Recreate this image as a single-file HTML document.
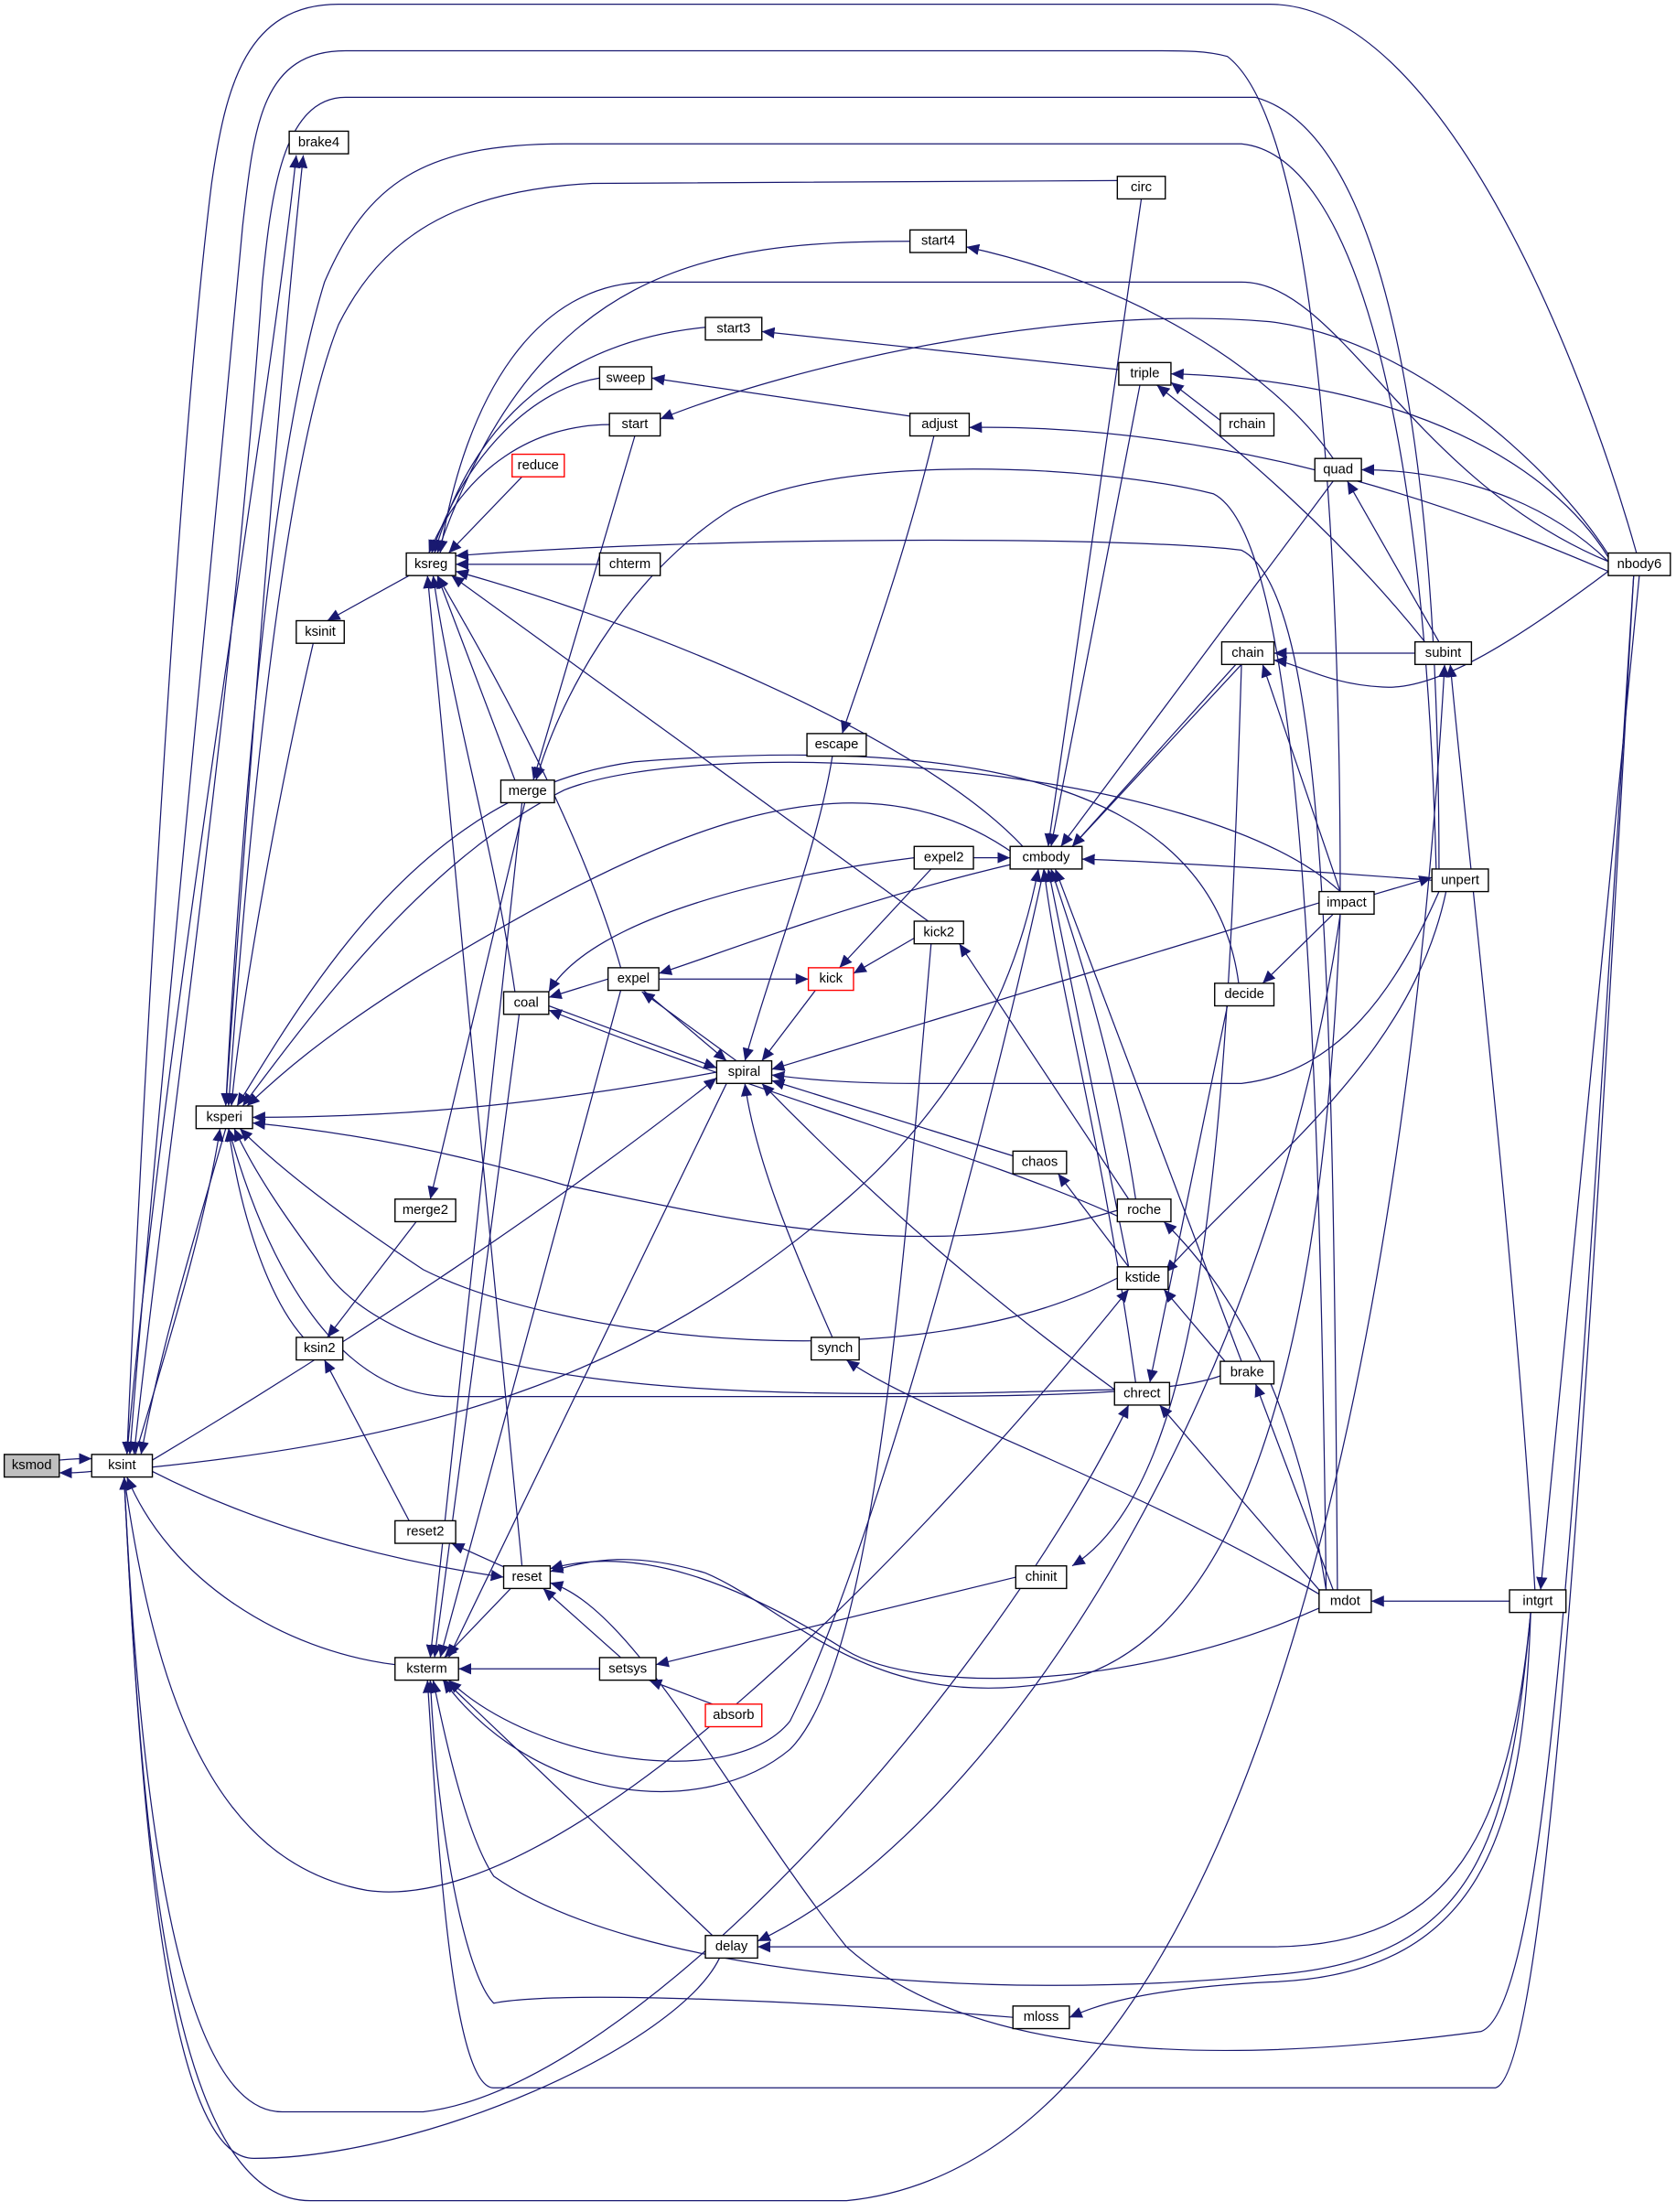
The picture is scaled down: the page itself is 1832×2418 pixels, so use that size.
<!DOCTYPE html>
<html><head><meta charset="utf-8"><style>
html,body{margin:0;padding:0;background:#fff;}
svg{display:block;}
text{font-family:"Liberation Sans",sans-serif;font-size:9.6px;text-anchor:middle;dominant-baseline:central;fill:#000;}
.e{fill:none;stroke:#191970;stroke-width:0.8;marker-end:url(#a);}
.n{fill:#fff;stroke:#000;stroke-width:0.9;}
</style></head><body>
<svg width="1832" height="2418" viewBox="0 0 1188 1568" xmlns="http://www.w3.org/2000/svg">
<defs><marker id="a" markerUnits="userSpaceOnUse" markerWidth="10" markerHeight="8" refX="9" refY="4" orient="auto"><path d="M0,0 L9,4 L0,8 z" fill="#191970"/></marker></defs>
<g>
<path class="e" d="M42,1035 C52,1034 56,1034 65,1034"/>
<path class="e" d="M65,1043 C56,1044 52,1044 42,1044"/>
<path class="e" d="M1160,392 C1120,250 1020,3 900,3 L240,3 C175,3 160,60 150,130 C125,330 100,800 90,1031"/>
<path class="e" d="M950,632 C950,400 935,90 870,40 C855,36 840,36 820,36 L245,36 C185,36 180,90 172,160 C150,400 110,800 92,1031"/>
<path class="e" d="M1020,616 C1020,400 1000,100 890,69 L245,69 C200,69 192,140 186,200 C165,500 120,800 95,1031"/>
<path class="e" d="M1018,616 C1010,300 960,110 880,102 L400,102 C300,102 260,130 230,200 C190,330 170,600 160,784"/>
<path class="e" d="M792,128 L420,130 C320,135 270,170 240,230 C200,330 175,600 162,784"/>
<path class="e" d="M90,1031 C120,700 190,300 210,110"/>
<path class="e" d="M160,784 C180,500 200,250 215,110"/>
<path class="e" d="M290,408 L232,440"/>
<path class="e" d="M222,456 C200,550 172,700 164,784"/>
<path class="e" d="M96,1031 C120,950 145,870 156,800"/>
<path class="e" d="M160,800 C140,870 115,950 100,1031"/>
<path class="e" d="M645,171 C500,171 380,190 310,392"/>
<path class="e" d="M500,232 C420,240 340,280 308,392"/>
<path class="e" d="M425,268 C380,275 330,320 306,392"/>
<path class="e" d="M432,301 C380,301 330,330 304,392"/>
<path class="e" d="M370,338 L318,392"/>
<path class="e" d="M425,400 L323,400"/>
<path class="e" d="M1140,398 C1000,340 950,200 880,200 L460,200 C380,200 330,280 312,392"/>
<path class="e" d="M948,1127 C945,700 940,420 880,390 C800,380 500,380 323,394"/>
<path class="e" d="M725,600 C650,520 450,440 323,405"/>
<path class="e" d="M658,653 L320,408"/>
<path class="e" d="M365,553 L310,408"/>
<path class="e" d="M365,703 C350,600 320,500 307,408"/>
<path class="e" d="M440,686 C410,580 340,460 310,408"/>
<path class="e" d="M370,1110 C350,900 320,600 303,408"/>
<path class="e" d="M450,309 L378,553"/>
<path class="e" d="M940,1127 C935,700 920,380 860,350 C780,330 600,320 520,360 C440,410 395,500 380,553"/>
<path class="e" d="M372,569 L305,850"/>
<path class="e" d="M295,866 L232,948"/>
<path class="e" d="M215,948 C190,920 170,860 162,800"/>
<path class="e" d="M290,1078 L230,964"/>
<path class="e" d="M360,1112 L320,1094"/>
<path class="e" d="M108,1043 C200,1090 300,1110 357,1118"/>
<path class="e" d="M280,1180 C200,1170 120,1120 90,1047"/>
<path class="e" d="M362,1126 L315,1175"/>
<path class="e" d="M425,1183 L325,1183"/>
<path class="e" d="M440,1175 L385,1126"/>
<path class="e" d="M505,1208 L460,1191"/>
<path class="e" d="M720,1118 L465,1180"/>
<path class="e" d="M108,1035 C250,950 400,850 508,764"/>
<path class="e" d="M108,1040 C300,1020 450,980 600,850 C680,780 720,700 736,616"/>
<path class="e" d="M508,760 C400,780 300,792 179,792"/>
<path class="e" d="M720,606 C600,520 450,600 300,690 C220,740 190,770 175,784"/>
<path class="e" d="M950,632 C850,540 500,520 400,560 C300,610 220,720 172,784"/>
<path class="e" d="M878,697 C860,560 700,520 450,540 C300,560 220,700 168,784"/>
<path class="e" d="M792,858 C650,900 500,860 400,840 C300,810 220,800 179,796"/>
<path class="e" d="M792,906 C650,980 400,950 300,900 C240,860 200,830 170,800"/>
<path class="e" d="M790,985 C600,990 300,1000 230,900 C200,860 180,830 166,800"/>
<path class="e" d="M870,973 C840,990 700,990 600,990 L320,990 C240,990 190,900 162,800"/>
<path class="e" d="M935,640 L547,758"/>
<path class="e" d="M1020,632 C990,700 950,760 880,768 L650,768 C600,768 570,765 547,762"/>
<path class="e" d="M720,820 L547,766"/>
<path class="e" d="M790,985 C700,920 620,850 540,768"/>
<path class="e" d="M590,948 C560,880 535,820 528,768"/>
<path class="e" d="M456,702 L515,752"/>
<path class="e" d="M522,752 L455,703"/>
<path class="e" d="M389,713 L508,757"/>
<path class="e" d="M792,862 C700,820 550,780 389,716"/>
<path class="e" d="M590,536 C580,600 545,690 528,752"/>
<path class="e" d="M662,309 C640,400 610,480 597,520"/>
<path class="e" d="M645,295 L462,268"/>
<path class="e" d="M793,262 L540,235"/>
<path class="e" d="M945,325 C900,260 800,200 685,175"/>
<path class="e" d="M1140,393 C1100,330 1000,240 900,228 C750,215 560,260 468,297"/>
<path class="e" d="M1140,395 C1100,330 1000,270 830,265"/>
<path class="e" d="M865,298 L830,271"/>
<path class="e" d="M1010,455 C950,380 880,320 820,273"/>
<path class="e" d="M1140,398 C1080,340 1000,333 965,333"/>
<path class="e" d="M1020,455 L955,341"/>
<path class="e" d="M1140,405 C1080,380 900,300 687,303"/>
<path class="e" d="M808,273 L745,600"/>
<path class="e" d="M809,141 L743,600"/>
<path class="e" d="M945,341 L752,600"/>
<path class="e" d="M880,471 L760,600"/>
<path class="e" d="M1003,463 L903,463"/>
<path class="e" d="M1140,405 C1080,450 1020,490 980,487 C940,485 920,470 903,468"/>
<path class="e" d="M1088,1127 C1075,900 1040,600 1028,471"/>
<path class="e" d="M1162,408 L1092,1127"/>
<path class="e" d="M1158,408 C1130,900 1100,1470 1060,1480 L350,1480 C320,1480 310,1300 303,1191"/>
<path class="e" d="M88,1047 C100,1300 120,1560 220,1560 L600,1560 C900,1530 1000,900 1024,471"/>
<path class="e" d="M690,608 L716,608"/>
<path class="e" d="M648,608 C550,620 420,650 389,703"/>
<path class="e" d="M720,612 C600,640 500,680 467,690"/>
<path class="e" d="M467,694 L573,694"/>
<path class="e" d="M648,665 L605,690"/>
<path class="e" d="M660,616 L595,686"/>
<path class="e" d="M578,702 L540,752"/>
<path class="e" d="M431,694 L389,707"/>
<path class="e" d="M800,850 L680,669"/>
<path class="e" d="M805,850 C790,750 760,660 745,616"/>
<path class="e" d="M800,898 L743,616"/>
<path class="e" d="M805,980 C780,800 750,700 740,616"/>
<path class="e" d="M880,965 L748,616"/>
<path class="e" d="M1015,624 C900,615 800,610 767,609"/>
<path class="e" d="M974,634 L1015,622"/>
<path class="e" d="M950,632 L895,471"/>
<path class="e" d="M876,471 L760,600"/>
<path class="e" d="M945,648 L895,697"/>
<path class="e" d="M880,471 C870,800 855,1050 760,1110"/>
<path class="e" d="M870,713 L815,980"/>
<path class="e" d="M800,898 L750,832"/>
<path class="e" d="M940,1127 C920,1000 880,920 825,866"/>
<path class="e" d="M870,967 L825,914"/>
<path class="e" d="M1025,632 C1000,750 900,820 826,902"/>
<path class="e" d="M945,1127 L890,981"/>
<path class="e" d="M935,1127 L822,996"/>
<path class="e" d="M935,1130 C800,1050 650,1000 600,964"/>
<path class="e" d="M1070,1135 L972,1135"/>
<path class="e" d="M935,1140 C800,1200 650,1200 600,1170 C520,1120 450,1095 390,1112"/>
<path class="e" d="M950,648 C940,900 900,1150 760,1190 C620,1220 560,1140 500,1115 C450,1100 420,1105 390,1114"/>
<path class="e" d="M1158,408 C1120,1000 1100,1420 1050,1440 C900,1460 700,1470 600,1380 C520,1280 450,1140 390,1122"/>
<path class="e" d="M740,616 C700,800 620,1100 560,1220 C520,1270 380,1250 318,1191"/>
<path class="e" d="M660,669 C640,900 620,1180 560,1240 C500,1290 380,1280 314,1191"/>
<path class="e" d="M718,1430 C600,1420 400,1410 350,1420 C330,1400 310,1300 305,1191"/>
<path class="e" d="M1085,1143 C1080,1300 1050,1400 900,1405 C800,1410 770,1425 758,1430"/>
<path class="e" d="M1085,1143 C1070,1300 1030,1380 900,1380 L537,1380"/>
<path class="e" d="M510,1388 C480,1450 300,1530 180,1530 C120,1530 100,1300 88,1047"/>
<path class="e" d="M505,1372 L315,1191"/>
<path class="e" d="M950,648 C900,1000 700,1300 537,1376"/>
<path class="e" d="M1085,1143 C1070,1300 1050,1390 900,1400 C700,1420 450,1400 350,1330 C330,1300 315,1230 307,1191"/>
<path class="e" d="M88,1047 C100,1300 130,1497 200,1497 L300,1497 C450,1480 700,1200 800,996"/>
<path class="e" d="M88,1047 C110,1200 150,1320 260,1340 C400,1360 650,1100 800,914"/>
<path class="e" d="M370,569 L305,1175"/>
<path class="e" d="M368,719 L308,1175"/>
<path class="e" d="M440,702 L312,1175"/>
<path class="e" d="M515,768 L318,1175"/>
</g>
<g>
<rect x="3" y="1031" width="39" height="16" fill="#bfbfbf" stroke="#000" stroke-width="0.9"/><text x="22.5" y="1039">ksmod</text>
<rect class="n" x="65" y="1031" width="43" height="16"/><text x="86.5" y="1039">ksint</text>
<rect class="n" x="205" y="93" width="42" height="16"/><text x="226" y="101">brake4</text>
<rect class="n" x="792" y="125" width="34" height="16"/><text x="809" y="133">circ</text>
<rect class="n" x="645" y="163" width="40" height="16"/><text x="665" y="171">start4</text>
<rect class="n" x="500" y="225" width="40" height="16"/><text x="520" y="233">start3</text>
<rect class="n" x="793" y="257" width="37" height="16"/><text x="811.5" y="265">triple</text>
<rect class="n" x="425" y="260" width="37" height="16"/><text x="443.5" y="268">sweep</text>
<rect class="n" x="432" y="293" width="36" height="16"/><text x="450" y="301">start</text>
<rect class="n" x="645" y="293" width="42" height="16"/><text x="666" y="301">adjust</text>
<rect class="n" x="865" y="293" width="38" height="16"/><text x="884" y="301">rchain</text>
<rect x="363" y="322" width="37" height="16" fill="#fff" stroke="#f00" stroke-width="0.9"/><text x="381.5" y="330">reduce</text>
<rect class="n" x="932" y="325" width="33" height="16"/><text x="948.5" y="333">quad</text>
<rect class="n" x="288" y="392" width="35" height="16"/><text x="305.5" y="400">ksreg</text>
<rect class="n" x="425" y="392" width="43" height="16"/><text x="446.5" y="400">chterm</text>
<rect class="n" x="1140" y="392" width="44" height="16"/><text x="1162" y="400">nbody6</text>
<rect class="n" x="210" y="440" width="34" height="16"/><text x="227" y="448">ksinit</text>
<rect class="n" x="866" y="455" width="37" height="16"/><text x="884.5" y="463">chain</text>
<rect class="n" x="1003" y="455" width="40" height="16"/><text x="1023" y="463">subint</text>
<rect class="n" x="572" y="520" width="42" height="16"/><text x="593" y="528">escape</text>
<rect class="n" x="355" y="553" width="38" height="16"/><text x="374" y="561">merge</text>
<rect class="n" x="648" y="600" width="42" height="16"/><text x="669" y="608">expel2</text>
<rect class="n" x="716" y="600" width="51" height="16"/><text x="741.5" y="608">cmbody</text>
<rect class="n" x="1015" y="616" width="40" height="16"/><text x="1035" y="624">unpert</text>
<rect class="n" x="935" y="632" width="39" height="16"/><text x="954.5" y="640">impact</text>
<rect class="n" x="648" y="653" width="35" height="16"/><text x="665.5" y="661">kick2</text>
<rect class="n" x="431" y="686" width="36" height="16"/><text x="449" y="694">expel</text>
<rect x="573" y="686" width="32" height="16" fill="#fff" stroke="#f00" stroke-width="0.9"/><text x="589" y="694">kick</text>
<rect class="n" x="861" y="697" width="42" height="16"/><text x="882" y="705">decide</text>
<rect class="n" x="357" y="703" width="32" height="16"/><text x="373" y="711">coal</text>
<rect class="n" x="508" y="752" width="39" height="16"/><text x="527.5" y="760">spiral</text>
<rect class="n" x="139" y="784" width="40" height="16"/><text x="159" y="792">ksperi</text>
<rect class="n" x="718" y="816" width="38" height="16"/><text x="737" y="824">chaos</text>
<rect class="n" x="792" y="850" width="38" height="16"/><text x="811" y="858">roche</text>
<rect class="n" x="280" y="850" width="43" height="16"/><text x="301.5" y="858">merge2</text>
<rect class="n" x="792" y="898" width="36" height="16"/><text x="810" y="906">kstide</text>
<rect class="n" x="210" y="948" width="33" height="16"/><text x="226.5" y="956">ksin2</text>
<rect class="n" x="575" y="948" width="34" height="16"/><text x="592" y="956">synch</text>
<rect class="n" x="865" y="965" width="38" height="16"/><text x="884" y="973">brake</text>
<rect class="n" x="790" y="980" width="39" height="16"/><text x="809.5" y="988">chrect</text>
<rect class="n" x="280" y="1078" width="43" height="16"/><text x="301.5" y="1086">reset2</text>
<rect class="n" x="357" y="1110" width="33" height="16"/><text x="373.5" y="1118">reset</text>
<rect class="n" x="720" y="1110" width="36" height="16"/><text x="738" y="1118">chinit</text>
<rect class="n" x="935" y="1127" width="37" height="16"/><text x="953.5" y="1135">mdot</text>
<rect class="n" x="1070" y="1127" width="40" height="16"/><text x="1090" y="1135">intgrt</text>
<rect class="n" x="280" y="1175" width="45" height="16"/><text x="302.5" y="1183">ksterm</text>
<rect class="n" x="425" y="1175" width="40" height="16"/><text x="445" y="1183">setsys</text>
<rect x="500" y="1208" width="40" height="16" fill="#fff" stroke="#f00" stroke-width="0.9"/><text x="520" y="1216">absorb</text>
<rect class="n" x="500" y="1372" width="37" height="16"/><text x="518.5" y="1380">delay</text>
<rect class="n" x="718" y="1422" width="40" height="16"/><text x="738" y="1430">mloss</text>
</g>
</svg>
</body></html>
